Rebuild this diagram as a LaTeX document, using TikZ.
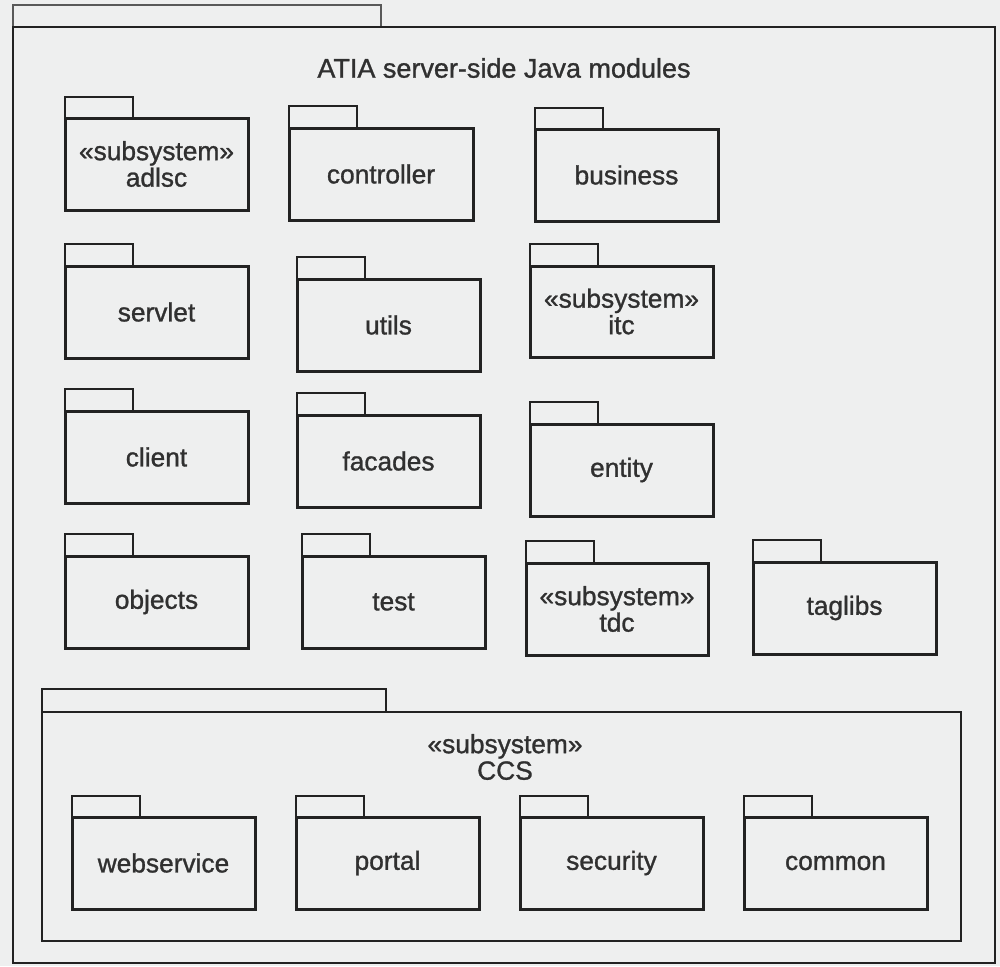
\documentclass[tikz,border=0pt]{standalone}
\usepackage{fontspec}
\setmainfont{Liberation Sans}
\newfontfamily\labelfont[FakeBold=1.1]{Liberation Sans}
\definecolor{bg}{HTML}{EEEFEF}
\definecolor{ink}{HTML}{222222}
\definecolor{txt}{HTML}{303030}

% UML package: name, left x, tab top y, body top y, right x, bottom y, label
\newcommand\umlpkg[7]{%
  \draw[pkgtab] (#2,#4) -- (#2,#3) -- (#2+68,#3) -- (#2+68,#4);
  \node[pkgbody, minimum width={#5-#2}, minimum height={#6-#4}] (#1) at (#2,#4) {#7};
}

\begin{document}
\begin{tikzpicture}[x=1pt,y=-1pt,
  label font/.style={font=\labelfont\fontsize{26.3}{26.5}\selectfont, text=txt},
  pkgbody/.style={draw=ink, line width=3pt, rectangle, inner sep=0pt, outer sep=0pt,
                  anchor=north west, align=center, label font},
  pkgtab/.style={draw=ink, line width=2.1pt},
  frame/.style={draw=ink, line width=2.6pt, rectangle, inner sep=0pt, outer sep=0pt, anchor=north west},
  frametab/.style={draw=ink!75, line width=2.2pt}]

\fill[bg] (0,0) rectangle (1000,966);
\useasboundingbox (0,0) rectangle (1000,966);

% outer package
\draw[frametab] (13,27) -- (13,5) -- (381,5) -- (381,27);
\node[frame, minimum width=982, minimum height=936] (atia) at (13,27) {};
\node[label font, font=\labelfont\fontsize{27}{28}\selectfont] (title) at (504,68) {ATIA server-side Java modules};

% first row
\umlpkg{adlsc}{65}{97}{118}{248}{210}{«subsystem»\\adlsc}
\umlpkg{controller}{289}{106}{128}{473}{220}{controller}
\umlpkg{business}{535}{108}{129}{718}{221}{business}

% second row
\umlpkg{servlet}{65}{244}{266}{248}{358}{servlet}
\umlpkg{utils}{297}{257}{279}{480}{371}{utils}
\umlpkg{itc}{530}{244}{266}{713}{357}{«subsystem»\\itc}

% third row
\umlpkg{client}{65}{389}{411}{248}{503}{client}
\umlpkg{facades}{297}{393}{415}{480}{507}{facades}
\umlpkg{entity}{530}{402}{424}{713}{516}{entity}

% fourth row
\umlpkg{objects}{65}{534}{556}{248}{648}{objects}
\umlpkg{test}{302}{534}{556}{485}{648}{test}
\umlpkg{tdc}{526}{541}{563}{708}{655}{«subsystem»\\tdc}
\umlpkg{taglibs}{753}{540}{562}{936}{654}{taglibs}

% CCS subsystem
\draw[pkgtab] (42,712) -- (42,689) -- (386,689) -- (386,712);
\node[frame, line width=2.3pt, minimum width=919, minimum height=229] (ccs) at (42,712) {};
\node[label font, align=center] (ccstitle) at (505,757) {«subsystem»\\CCS};

\umlpkg{webservice}{72}{796}{817}{255}{909}{webservice}
\umlpkg{portal}{296}{796}{817}{479}{909}{portal}
\umlpkg{security}{520}{796}{817}{703}{909}{security}
\umlpkg{common}{744}{796}{817}{927}{909}{common}

\end{tikzpicture}
\end{document}
